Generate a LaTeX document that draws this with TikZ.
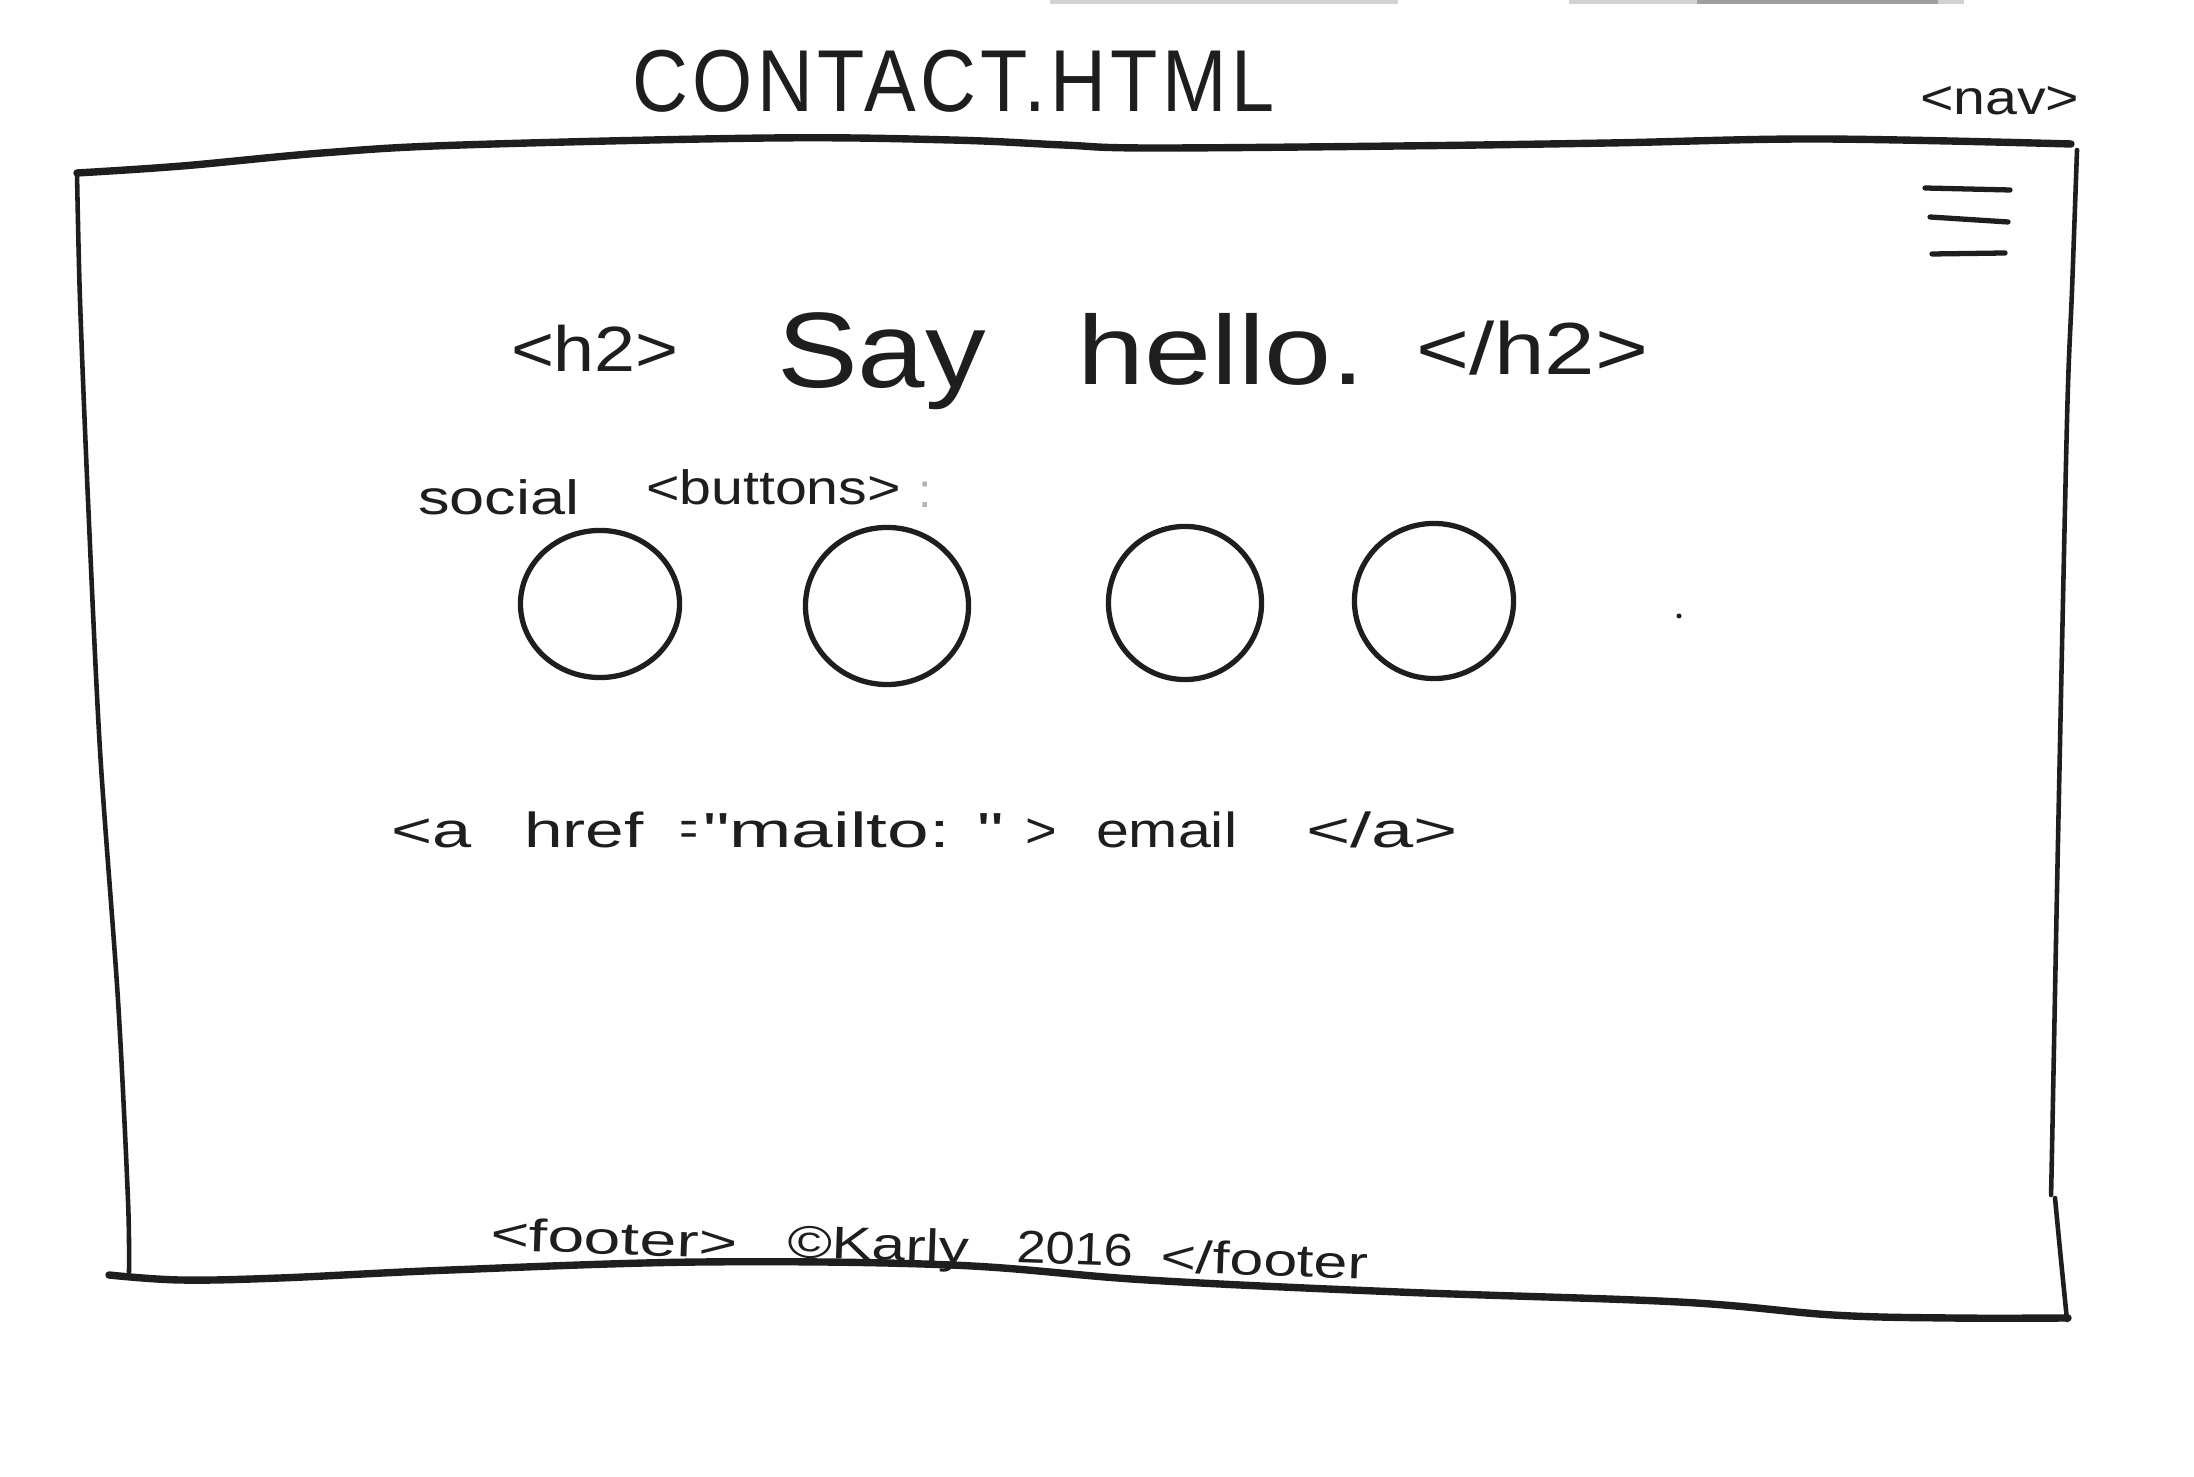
\documentclass[tikz,border=0pt]{standalone}
\usepackage{fontspec}
\usetikzlibrary{shapes.geometric}
\newfontfamily\hand{Liberation Sans}
\newfontfamily\handspaced[LetterSpace=6]{Liberation Sans}
\definecolor{ink}{HTML}{1E1E1E}
\begin{document}
\begin{tikzpicture}[x=0.01cm,y=-0.01cm,
  edge/.style={draw=ink,line width=1.3pt,line cap=round,line join=round},
  heavy/.style={draw=ink,line width=2.1pt,line cap=round,line join=round},
  burger/.style={draw=ink,line width=1.5pt,line cap=round},
  btn/.style={ellipse,draw=ink,line width=1.5pt,inner sep=0pt},
  txt/.style={inner sep=0pt,outer sep=0pt,anchor=base west,text=ink},
  fTitle/.style={font=\handspaced\fontsize{25}{30}\selectfont},
  fSmall/.style={font=\hand\fontsize{13.7}{16}\selectfont},
  fMail/.style={font=\hand\fontsize{14}{16}\selectfont},
  fFoot/.style={font=\hand\fontsize{13}{15}\selectfont},
]
\useasboundingbox[fill=white] (0,0) rectangle (2194,1477);

% faint bleed-through at the top
\draw[gray!35,line width=1.2pt] (1050,2) -- (1398,2);
\draw[gray!35,line width=1.2pt] (1569,2) -- (1964,2);
\draw[gray!75,line width=1.6pt] (1697,1) -- (1938,1);

% title and nav label
\node[txt,fTitle,xscale=0.88] (title) at (632,112) {CONTACT.HTML};
\node[txt,fSmall,xscale=1.19] (nav) at (1920,115) {<nav>};

% frame
\draw[heavy] plot[smooth,tension=0.6] coordinates {(77,173) (182,166) (322,153) (462,145) (770,138) (951,140) (1063,145) (1147,148) (1400,146) (1609,143) (1819,139) (2071,144)};
\draw[edge] plot[smooth,tension=0.5] coordinates {(2077,150) (2072,290) (2067,420) (2058,840) (2052,1150) (2051,1195)};
\draw[edge] plot[smooth,tension=0.5] coordinates {(2055,1198) (2060,1250) (2067,1320)};
\draw[edge] plot[smooth,tension=0.5] coordinates {(77,173) (80,300) (88,500) (100,750) (118,1000) (128,1200) (129,1272)};
\draw[heavy] plot[smooth,tension=0.6] coordinates {(109,1275) (180,1280) (280,1278) (450,1270) (700,1262) (951,1265) (1147,1280) (1399,1292) (1679,1302) (1833,1315) (1950,1318) (2068,1318)};

% hamburger menu
\draw[burger] (1925,188) -- (2010,190);
\draw[burger] (1930,217) -- (2008,222);
\draw[burger] (1932,254) -- (2005,253);

% heading
\node[txt,font=\hand\fontsize{18.2}{22}\selectfont,xscale=1.15] (h2o) at (511,372) {<h2>};
\node[txt,font=\hand\fontsize{30.5}{36}\selectfont,xscale=1.13] (say) at (777,388) {Say};
\node[txt,font=\hand\fontsize{27.9}{33}\selectfont,xscale=1.23] (hello) at (1077,385) {hello.};
\node[txt,font=\hand\fontsize{21}{25}\selectfont,xscale=1.23] (h2c) at (1416,375) {</h2>};

% social buttons
\node[txt,fSmall,xscale=1.31] (social) at (418,515) {social};
\node[txt,fSmall,xscale=1.19] (buttons) at (646,505) {<buttons>};
\node[txt,fSmall,text=gray!60] (colon) at (918,508) {:};

\node[btn,minimum width=1.59cm,minimum height=1.47cm] (b1) at (600,604) {};
\node[btn,minimum width=1.63cm,minimum height=1.57cm] (b2) at (887,606) {};
\node[btn,minimum width=1.53cm,minimum height=1.53cm] (b3) at (1185,603) {};
\node[btn,minimum width=1.59cm,minimum height=1.55cm] (b4) at (1434,601) {};
\fill[ink] (1679,616) circle[radius=0.025cm];

% email link
\node[txt,fMail,xscale=1.43] (ao) at (391,848) {<a};
\node[txt,fMail,xscale=1.41] (href) at (524,848) {href};
\node[txt,fMail,xscale=0.6] (eq) at (680,846) {=};
\node[txt,fMail,xscale=1.52] (mailto) at (703,848) {"mailto: "};
\node[txt,fMail,xscale=1.1] (gt) at (1025,848) {>};
\node[txt,fMail,xscale=1.2] (email) at (1096,848) {email};
\node[txt,fMail,xscale=1.54] (ac) at (1306,848) {</a>};

% footer
\node[txt,fFoot,rotate=-2,xscale=1.45] (fo) at (490,1250) {<footer>};
\node[txt,fFoot,rotate=-2,xscale=1.32] (karly) at (787,1257) {©Karly};
\node[txt,fFoot,rotate=-2,xscale=1.15] (year) at (1016,1262) {2016};
\node[txt,fFoot,rotate=-2,xscale=1.33] (fc) at (1160,1272) {</footer};
\end{tikzpicture}
\end{document}
